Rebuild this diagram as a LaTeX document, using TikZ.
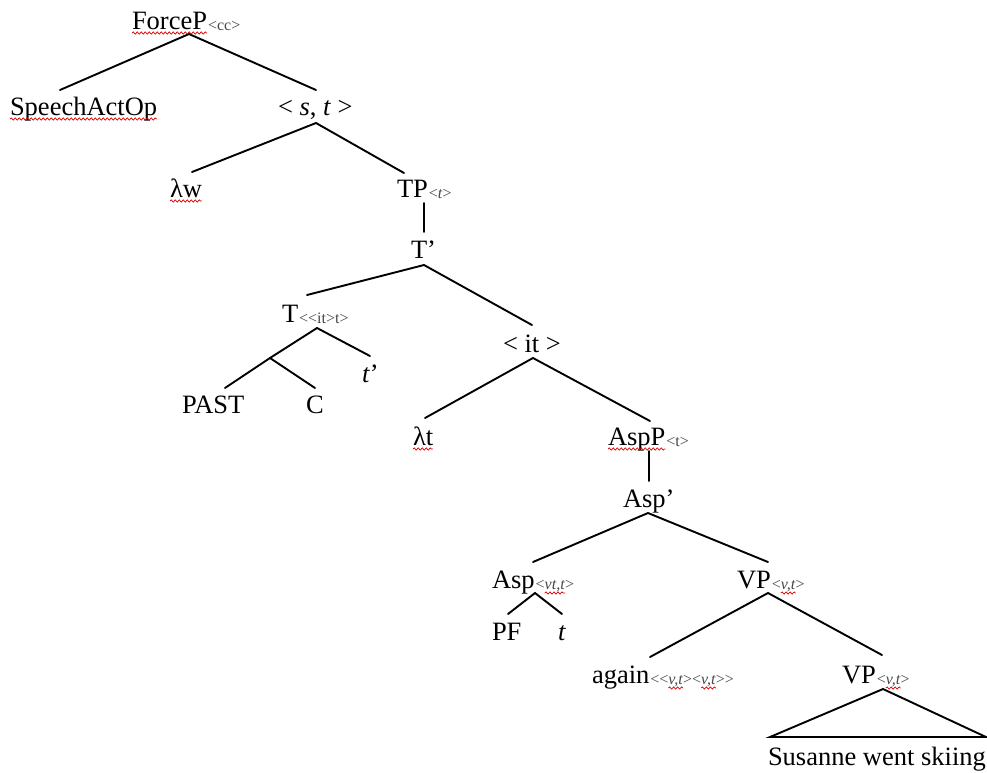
\documentclass[tikz,border=0pt]{standalone}
\usepackage{fontspec}
\setmainfont{Liberation Serif}
\usetikzlibrary{decorations.pathmorphing}

\tikzset{
  lbl/.style={inner sep=0pt, outer sep=0pt, anchor=base west,
              font=\fontsize{26.5}{30}\selectfont},
  sub/.style={inner sep=0pt, outer sep=0pt, anchor=base west,
              font=\fontsize{16}{19}\selectfont, text=black!72},
  branch/.style={line width=1.9pt, line cap=round},
  squig/.style={red!85!black, line width=0.7pt, decorate,
                decoration={snake, segment length=4pt, amplitude=1.1pt}},
}

\begin{document}
\begin{tikzpicture}[x=1pt, y=-1pt]
\useasboundingbox (0,0) rectangle (987,772);

% ---------- labels ----------
\node[lbl] (fp) at (132,29) {ForceP};
\node[sub] (fps) at ([xshift=1pt,yshift=-1pt]fp.base east) {<cc>};
\node[lbl] (sao) at (10,115) {SpeechActOp};
\node[lbl] (st) at (278,115) {< \textit{s}, \textit{t} >};
\node[lbl] (lw) at (170,197) {λw};
\node[lbl] (tp) at (397,197) {TP};
\node[sub] (tps) at ([xshift=1pt,yshift=-1pt]tp.base east) {<\textit{t}>};
\node[lbl] (tbar) at (411,258) {T’};
\node[lbl] (t) at (282,322) {T};
\node[sub] (ts) at ([xshift=1pt,yshift=-1pt]t.base east) {<{}<it>t>};
\node[lbl] (tprime) at (362,382) {\textit{t}’};
\node[lbl] (past) at (182,413) {PAST};
\node[lbl] (c) at (306,413) {C};
\node[lbl] (it) at (503,352) {< it >};
\node[lbl] (lt) at (413,445) {λt};
\node[lbl] (aspp) at (608,445) {AspP};
\node[sub] (aspps) at ([xshift=1pt,yshift=-1pt]aspp.base east) {<t>};
\node[lbl] (aspbar) at (623,507) {Asp’};
\node[lbl] (asp) at (492,588) {Asp};
\node[sub] (asp1) at ([xshift=1pt,yshift=-1pt]asp.base east) {<};
\node[sub] (asp2) at (asp1.base east) {\textit{vt,t}};
\node[sub] (asp3) at (asp2.base east) {>};
\node[lbl] (pf) at (492,640) {PF};
\node[lbl] (tt) at (558,640) {\textit{t}};
\node[lbl] (vp) at (737,588) {VP};
\node[sub] (vp1) at ([xshift=1pt,yshift=-1pt]vp.base east) {<};
\node[sub] (vp2) at (vp1.base east) {\textit{v,t}};
\node[sub] (vp3) at (vp2.base east) {>};
\node[lbl] (again) at (592,683) {again};
\node[sub] (ag1) at ([xshift=1pt,yshift=-1pt]again.base east) {<{}<};
\node[sub] (ag2) at (ag1.base east) {\textit{v,t}};
\node[sub] (ag3) at (ag2.base east) {><};
\node[sub] (ag4) at (ag3.base east) {\textit{v,t}};
\node[sub] (ag5) at (ag4.base east) {>{}>};
\node[lbl] (vpb) at (842,683) {VP};
\node[sub] (vpb1) at ([xshift=1pt,yshift=-1pt]vpb.base east) {<};
\node[sub] (vpb2) at (vpb1.base east) {\textit{v,t}};
\node[sub] (vpb3) at (vpb2.base east) {>};
\node[lbl] (sws) at (768,765) {Susanne went skiing};

% ---------- branch end points ----------
\coordinate (fp-d) at (189,34);
\coordinate (sao-u) at (60,90);
\coordinate (st-u) at (316,90);
\coordinate (st-d) at (316,123);
\coordinate (lw-u) at (192,172);
\coordinate (tp-u) at (404,173);
\coordinate (tp-d) at (424,203);
\coordinate (tbar-u) at (424,232);
\coordinate (tbar-d) at (424,265);
\coordinate (t-u) at (307,295);
\coordinate (it-u) at (532,325);
\coordinate (t-d) at (317,328);
\coordinate (tc) at (270,358);
\coordinate (tprime-u) at (370,356);
\coordinate (past-u) at (225,388);
\coordinate (c-u) at (315,388);
\coordinate (it-d) at (533,358);
\coordinate (lt-u) at (425,418);
\coordinate (aspp-u) at (650,421);
\coordinate (aspp-d) at (649,451);
\coordinate (aspbar-u) at (649,481);
\coordinate (aspbar-d) at (648,513);
\coordinate (asp-u) at (533,562);
\coordinate (vp-u) at (768,562);
\coordinate (asp-d) at (535,593);
\coordinate (pf-u) at (508,614);
\coordinate (tt-u) at (562,614);
\coordinate (vp-d) at (768,593);
\coordinate (again-u) at (650,657);
\coordinate (vpb-u) at (882,655);
\coordinate (vpb-d) at (883,689);
\coordinate (tri-l) at (770,737);
\coordinate (tri-r) at (986,737);

% ---------- branches ----------
\draw[branch] (sao-u) -- (fp-d) -- (st-u);
\draw[branch] (lw-u) -- (st-d) -- (tp-u);
\draw[branch] (tp-d) -- (tbar-u);
\draw[branch] (t-u) -- (tbar-d) -- (it-u);
\draw[branch] (past-u) -- (tc) -- (t-d) -- (tprime-u);
\draw[branch] (tc) -- (c-u);
\draw[branch] (lt-u) -- (it-d) -- (aspp-u);
\draw[branch] (aspp-d) -- (aspbar-u);
\draw[branch] (asp-u) -- (aspbar-d) -- (vp-u);
\draw[branch] (pf-u) -- (asp-d) -- (tt-u);
\draw[branch] (again-u) -- (vp-d) -- (vpb-u);
\draw[branch] (tri-l) -- (vpb-d) -- (tri-r) -- cycle;

% ---------- spell-check underlines ----------
\foreach \n in {fp, sao, lw, lt, aspp, asp2, vp2, ag2, ag4, vpb2}
  \draw[squig] ([yshift=-4pt]\n.base west) -- ([yshift=-4pt]\n.base east);
\end{tikzpicture}
\end{document}
